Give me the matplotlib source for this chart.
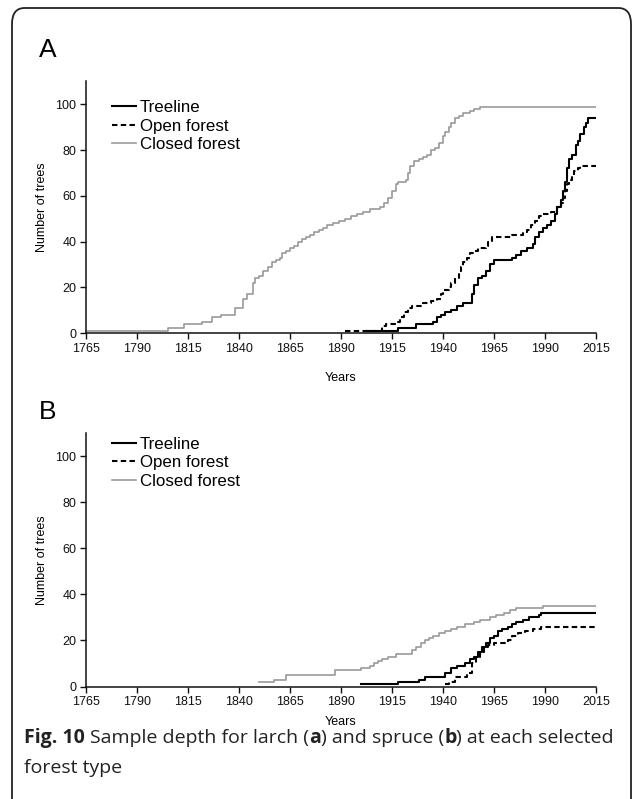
import matplotlib
matplotlib.use("Agg")
import matplotlib.pyplot as plt
from matplotlib.patches import FancyBboxPatch

# ---- data: cumulative number of trees (step changes: year, count) ----
years_tick = [1765, 1790, 1815, 1840, 1865, 1890, 1915, 1940, 1965, 1990, 2015]
y_ticks = [0, 20, 40, 60, 80, 100]
series_names = ["Treeline", "Open forest", "Closed forest"]

# Larch (panel A)
larch_tree_years = [1902, 1918, 1927, 1935, 1937, 1939, 1941, 1944, 1947, 1950, 1954,
                    1955, 1957, 1959, 1961, 1963, 1965, 1974, 1976, 1978, 1981, 1984,
                    1985, 1987, 1989, 1991, 1993, 1995, 1996, 1998, 1999, 2000, 2001,
                    2002, 2003, 2005, 2006, 2007, 2009, 2010, 2011, 2015]
larch_tree_counts = [1, 2, 4, 5, 7, 8, 9, 10, 12, 13, 17,
                     21, 24, 25, 27, 30, 32, 33, 34, 36, 37, 39,
                     42, 44, 46, 47, 49, 52, 55, 58, 62, 66, 72,
                     76, 78, 82, 84, 87, 90, 92, 94, 94]

larch_open_years = [1892, 1910, 1912, 1917, 1919, 1921, 1923, 1925, 1930, 1934, 1937,
                    1939, 1940, 1943, 1944, 1946, 1948, 1949, 1950, 1952, 1953, 1955,
                    1957, 1961, 1962, 1964, 1974, 1979, 1981, 1983, 1985, 1987, 1989,
                    1993, 1996, 1998, 1999, 2000, 2001, 2002, 2003, 2004, 2006, 2007,
                    2015]
larch_open_counts = [1, 3, 4, 5, 7, 9, 11, 12, 13, 14, 15,
                     17, 19, 20, 22, 24, 27, 29, 31, 33, 35, 36,
                     37, 38, 40, 42, 43, 44, 45, 47, 49, 51, 52,
                     53, 55, 57, 59, 62, 65, 67, 69, 71, 72, 73,
                     73]

larch_closed_years = [1765, 1805, 1813, 1822, 1827, 1831, 1838, 1842, 1844, 1847, 1848,
                      1850, 1852, 1854, 1856, 1858, 1860, 1861, 1863, 1865, 1867, 1869,
                      1871, 1873, 1875, 1877, 1879, 1881, 1883, 1886, 1889, 1892, 1895,
                      1898, 1901, 1904, 1909, 1911, 1913, 1915, 1917, 1918, 1922, 1923,
                      1924, 1926, 1928, 1930, 1932, 1934, 1936, 1938, 1940, 1941, 1943,
                      1944, 1946, 1948, 1950, 1953, 1955, 1958, 2015]
larch_closed_counts = [1, 2, 4, 5, 7, 8, 11, 15, 17, 22, 24,
                       25, 27, 29, 31, 32, 33, 35, 36, 37, 38, 40,
                       41, 42, 43, 44, 45, 46, 47, 48, 49, 50, 51,
                       52, 53, 54, 55, 57, 59, 62, 65, 66, 67, 70,
                       73, 75, 76, 77, 78, 80, 81, 83, 86, 88, 90,
                       92, 94, 95, 96, 97, 98, 99, 99]

# Spruce (panel B)
spruce_tree_years = [1900, 1918, 1928, 1931, 1941, 1944, 1947, 1951, 1953, 1955, 1957,
                     1959, 1961, 1963, 1965, 1967, 1969, 1972, 1974, 1976, 1979, 1982,
                     1987, 1988, 2015]
spruce_tree_counts = [1, 2, 3, 4, 6, 8, 9, 10, 12, 13, 15,
                      17, 19, 21, 22, 24, 25, 26, 27, 28, 29, 30,
                      31, 32, 32]

spruce_open_years = [1941, 1943, 1946, 1952, 1954, 1956, 1958, 1960, 1962, 1965, 1972,
                     1974, 1977, 1980, 1984, 1988, 2015]
spruce_open_counts = [1, 2, 4, 6, 10, 13, 15, 17, 18, 19, 20,
                      22, 23, 24, 25, 26, 26]

spruce_closed_years = [1850, 1857, 1863, 1887, 1900, 1904, 1906, 1908, 1910, 1913, 1917,
                       1925, 1927, 1929, 1931, 1933, 1935, 1938, 1941, 1944, 1947, 1951,
                       1955, 1958, 1963, 1966, 1970, 1973, 1976, 1989, 2015]
spruce_closed_counts = [2, 3, 5, 7, 8, 9, 10, 11, 12, 13, 14,
                        16, 17, 19, 20, 21, 22, 23, 24, 25, 26, 27,
                        28, 29, 30, 31, 32, 33, 34, 35, 35]

panels = [
    ("A", [(larch_tree_years, larch_tree_counts),
           (larch_open_years, larch_open_counts),
           (larch_closed_years, larch_closed_counts)]),
    ("B", [(spruce_tree_years, spruce_tree_counts),
           (spruce_open_years, spruce_open_counts),
           (spruce_closed_years, spruce_closed_counts)]),
]

# ---- figure setup ----
W, H = 634, 799
DPI = 100
fig = plt.figure(figsize=(W / DPI, H / DPI), dpi=DPI)
fig.patch.set_facecolor("white")

styles = [
    dict(color="black", lw=1.5, ls="-"),
    dict(color="black", lw=1.5, ls=(0, (2.6, 1.6))),
    dict(color="#9a9a9a", lw=1.2, ls="-"),
]

sans = ["Liberation Sans", "DejaVu Sans"]


def px_axes(left, right, top, bottom):
    return [left / W, 1 - bottom / H, (right - left) / W, (bottom - top) / H]


# per panel: axes box, legend anchor, panel-letter y, x-label y (pixels)
layout = [
    dict(box=px_axes(86, 596, 81.4, 333), leg_y=0.925, letter_y=50, xlabel_y=378),
    dict(box=px_axes(86, 596, 433, 686.5), leg_y=0.985, letter_y=412, xlabel_y=722),
]

for (letter, data), lay in zip(panels, layout):
    ax = fig.add_axes(lay["box"])
    for (xs, ys), st, name in zip(data, styles, series_names):
        ax.plot(xs, ys, drawstyle="steps-post", label=name, **st)
    ax.set_xlim(1765, 2015)
    ax.set_ylim(0, 110)
    ax.set_xticks(years_tick)
    ax.set_yticks(y_ticks)
    for s in ("top", "right"):
        ax.spines[s].set_visible(False)
    for s in ("left", "bottom"):
        ax.spines[s].set_linewidth(1.1)
        ax.spines[s].set_color("#111111")
    ax.tick_params(direction="out", length=4, width=1.0, labelsize=9,
                   colors="#111111", pad=3)
    for lbl in ax.get_xticklabels() + ax.get_yticklabels():
        lbl.set_family(sans)

    # axis titles placed at fixed pixel positions
    bx0, by0, bw, bh = lay["box"]
    ax.set_xlabel("Years", fontsize=9, family=sans)
    ax.xaxis.set_label_coords(0.5, ((1 - lay["xlabel_y"] / H) - by0) / bh)
    ax.xaxis.label.set_va("center")
    ax.set_ylabel("Number of trees", fontsize=9, family=sans)
    ax.yaxis.set_label_coords((42 / W - bx0) / bw, 0.5)
    ax.yaxis.label.set_va("center")

    ax.legend(loc="upper left", bbox_to_anchor=(0.051, lay["leg_y"]), frameon=False,
              borderpad=0, borderaxespad=0, handlelength=1.4,
              handletextpad=0.25, labelspacing=0.2,
              prop=dict(family=sans, size=12.2))
    fig.text(39 / W, 1 - lay["letter_y"] / H, letter, fontsize=19, family=sans,
             va="center", ha="left")

# caption with bold figure number and panel letters
cap_font = ["Open Sans", "DejaVu Sans"]
renderer = fig.canvas.get_renderer()
parts = [("Fig. 10 ", "bold"), ("Sample depth for larch (", "normal"), ("a", "bold"),
         (") and spruce (", "normal"), ("b", "bold"), (") at each selected", "normal")]
xpos = 24
for txt, wt in parts:
    t = fig.text(xpos / W, 1 - 738 / H, txt, fontsize=14, family=cap_font,
                 weight=wt, va="center", ha="left", color="#222222")
    xpos += t.get_window_extent(renderer=renderer).width
fig.text(24 / W, 1 - 768 / H, "forest type", fontsize=14, family=cap_font,
         va="center", ha="left", color="#222222")

# rounded frame around the figure, open at the bottom
frame = FancyBboxPatch((12 / W, -0.05), (631 - 12) / W, (1 - 8 / H) + 0.05,
                       boxstyle="round,pad=0,rounding_size=0.02",
                       transform=fig.transFigure, fill=False,
                       edgecolor="#222222", lw=1.3)
fig.patches.append(frame)

fig.savefig("out.png", dpi=DPI)
